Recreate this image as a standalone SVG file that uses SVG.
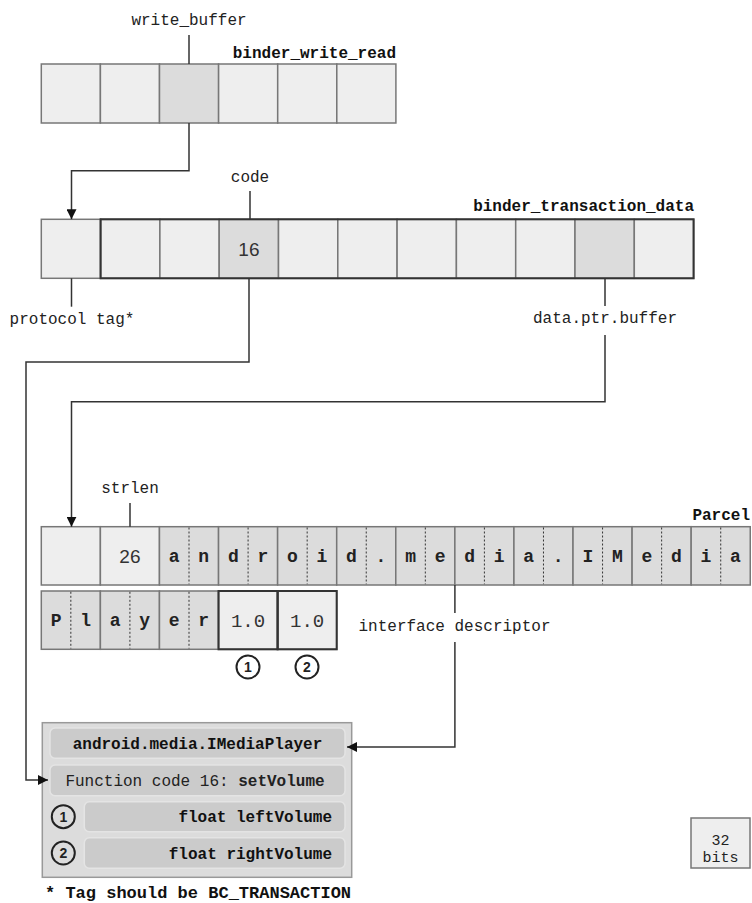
<svg xmlns="http://www.w3.org/2000/svg" width="752" height="903" viewBox="0 0 752 903">
<style>
.lt{fill:#eeeeee;stroke:#777777;stroke-width:1.5}
.dk{fill:#dcdcdc;stroke:#777777;stroke-width:1.5}
.thick{fill:none;stroke:#333333;stroke-width:2}
.dot{stroke:#333333;stroke-width:1;stroke-dasharray:2 2}
.lbl{font-family:"Liberation Mono",monospace;font-size:16px;fill:#222222}
.ttl{font-family:"Liberation Mono",monospace;font-size:16px;font-weight:bold;fill:#111111}
.ch{font-family:"Liberation Mono",monospace;font-size:18px;font-weight:bold;fill:#222222;text-anchor:middle}
.num{font-family:"Liberation Sans",sans-serif;font-size:19px;fill:#333333;text-anchor:middle}
.flt{font-family:"Liberation Mono",monospace;font-size:19px;fill:#333333;text-anchor:middle}
.circ{fill:none;stroke:#222222;stroke-width:2}
.cn{font-family:"Liberation Sans",sans-serif;font-size:14px;font-weight:bold;fill:#222222;text-anchor:middle}
.conn{fill:none;stroke:#333333;stroke-width:1.5}
.row{fill:#cbcbcb;stroke:#e4e4e4;stroke-width:1.5}
</style>
<defs>
<marker id="ah" viewBox="0 0 10 10" refX="10" refY="5" markerWidth="10" markerHeight="10" markerUnits="userSpaceOnUse" orient="auto">
<path d="M0,0 L10,5 L0,10 z" fill="#111111"/>
</marker>
</defs>

<g id="binder_write_read">
<rect class="lt" x="41.3" y="64" width="59.1" height="59"/>
<rect class="lt" x="100.4" y="64" width="59.1" height="59"/>
<rect class="dk" x="159.5" y="64" width="59.1" height="59"/>
<rect class="lt" x="218.6" y="64" width="59.1" height="59"/>
<rect class="lt" x="277.7" y="64" width="59.1" height="59"/>
<rect class="lt" x="336.8" y="64" width="59.1" height="59"/>
<text class="ttl" x="396" y="58" text-anchor="end">binder_write_read</text>
<text class="lbl" x="189" y="25" text-anchor="middle">write_buffer</text>
</g>

<g id="binder_transaction_data">
<rect class="lt" x="41.3" y="219.3" width="59.3" height="59"/>
<rect class="lt" x="100.6" y="219.3" width="59.3" height="59"/>
<rect class="lt" x="159.9" y="219.3" width="59.3" height="59"/>
<rect class="dk" x="219.2" y="219.3" width="59.3" height="59"/>
<rect class="lt" x="278.5" y="219.3" width="59.3" height="59"/>
<rect class="lt" x="337.8" y="219.3" width="59.3" height="59"/>
<rect class="lt" x="397.1" y="219.3" width="59.3" height="59"/>
<rect class="lt" x="456.4" y="219.3" width="59.3" height="59"/>
<rect class="lt" x="515.7" y="219.3" width="59.3" height="59"/>
<rect class="dk" x="575.0" y="219.3" width="59.3" height="59"/>
<rect class="lt" x="634.3" y="219.3" width="59.3" height="59"/>
<rect class="thick" x="100.6" y="219.3" width="593" height="59"/>
<text class="num" x="248.9" y="255.5">16</text>
<text class="ttl" x="694" y="211" text-anchor="end">binder_transaction_data</text>
<text class="lbl" x="250" y="182" text-anchor="middle">code</text>
<text class="lbl" x="72" y="324" text-anchor="middle">protocol tag*</text>
<text class="lbl" x="605" y="323" text-anchor="middle">data.ptr.buffer</text>
</g>

<g id="parcel">
<rect class="lt" x="41.3" y="526.7" width="59.08" height="58.3"/>
<rect class="lt" x="100.38" y="526.7" width="59.08" height="58.3"/>
<rect class="dk" x="159.46" y="526.7" width="59.08" height="58.3"/>
<rect class="dk" x="218.54" y="526.7" width="59.08" height="58.3"/>
<rect class="dk" x="277.62" y="526.7" width="59.08" height="58.3"/>
<rect class="dk" x="336.7" y="526.7" width="59.08" height="58.3"/>
<rect class="dk" x="395.78" y="526.7" width="59.08" height="58.3"/>
<rect class="dk" x="454.86" y="526.7" width="59.08" height="58.3"/>
<rect class="dk" x="513.94" y="526.7" width="59.08" height="58.3"/>
<rect class="dk" x="573.02" y="526.7" width="59.08" height="58.3"/>
<rect class="dk" x="632.1" y="526.7" width="59.08" height="58.3"/>
<rect class="dk" x="691.18" y="526.7" width="59.08" height="58.3"/>
<g class="dot">
<line x1="189" y1="527.5" x2="189" y2="584.2"/>
<line x1="248.08" y1="527.5" x2="248.08" y2="584.2"/>
<line x1="307.16" y1="527.5" x2="307.16" y2="584.2"/>
<line x1="366.24" y1="527.5" x2="366.24" y2="584.2"/>
<line x1="425.32" y1="527.5" x2="425.32" y2="584.2"/>
<line x1="484.4" y1="527.5" x2="484.4" y2="584.2"/>
<line x1="543.48" y1="527.5" x2="543.48" y2="584.2"/>
<line x1="602.56" y1="527.5" x2="602.56" y2="584.2"/>
<line x1="661.64" y1="527.5" x2="661.64" y2="584.2"/>
<line x1="720.72" y1="527.5" x2="720.72" y2="584.2"/>
</g>
<text class="num" x="129.9" y="562.5">26</text>
<text class="ch" x="174.23" y="562">a</text><text class="ch" x="203.77" y="562">n</text>
<text class="ch" x="233.31" y="562">d</text><text class="ch" x="262.85" y="562">r</text>
<text class="ch" x="292.39" y="562">o</text><text class="ch" x="321.93" y="562">i</text>
<text class="ch" x="351.47" y="562">d</text><text class="ch" x="381.01" y="562">.</text>
<text class="ch" x="410.55" y="562">m</text><text class="ch" x="440.09" y="562">e</text>
<text class="ch" x="469.63" y="562">d</text><text class="ch" x="499.17" y="562">i</text>
<text class="ch" x="528.71" y="562">a</text><text class="ch" x="558.25" y="562">.</text>
<text class="ch" x="587.79" y="562">I</text><text class="ch" x="617.33" y="562">M</text>
<text class="ch" x="646.87" y="562">e</text><text class="ch" x="676.41" y="562">d</text>
<text class="ch" x="705.95" y="562">i</text><text class="ch" x="735.49" y="562">a</text>
<text class="ttl" x="750" y="520" text-anchor="end">Parcel</text>
<text class="lbl" x="130" y="493" text-anchor="middle">strlen</text>

<rect class="dk" x="41.3" y="591" width="59.08" height="58.3"/>
<rect class="dk" x="100.38" y="591" width="59.08" height="58.3"/>
<rect class="dk" x="159.46" y="591" width="59.08" height="58.3"/>
<rect class="lt" x="218.54" y="591" width="59.08" height="58.3"/>
<rect class="lt" x="277.62" y="591" width="59.08" height="58.3"/>
<rect class="thick" x="218.54" y="591" width="59.08" height="58.3"/>
<rect class="thick" x="277.62" y="591" width="59.08" height="58.3"/>
<g class="dot">
<line x1="70.84" y1="591.8" x2="70.84" y2="648.5"/>
<line x1="129.92" y1="591.8" x2="129.92" y2="648.5"/>
<line x1="189" y1="591.8" x2="189" y2="648.5"/>
</g>
<text class="ch" x="56.07" y="626">P</text><text class="ch" x="85.61" y="626">l</text>
<text class="ch" x="115.15" y="626">a</text><text class="ch" x="144.69" y="626">y</text>
<text class="ch" x="174.23" y="626">e</text><text class="ch" x="203.77" y="626">r</text>
<text class="flt" x="248.08" y="626.5">1.0</text>
<text class="flt" x="307.16" y="626.5">1.0</text>
<circle class="circ" cx="248" cy="667" r="11.5"/>
<text class="cn" x="248" y="672">1</text>
<circle class="circ" cx="307" cy="667" r="11.5"/>
<text class="cn" x="307" y="672">2</text>
<text class="lbl" x="454.5" y="631" text-anchor="middle">interface descriptor</text>
</g>

<g id="method">
<rect x="42.3" y="722.7" width="309.4" height="154.6" fill="#dcdcdc" stroke="#999999" stroke-width="1.5"/>
<rect class="row" x="50" y="728" width="295" height="30.3" rx="5"/>
<text class="ttl" x="197.5" y="748.5" text-anchor="middle" fill="#222222">android.media.IMediaPlayer</text>
<rect class="row" x="50" y="765" width="295" height="30.7" rx="5"/>
<text class="lbl" x="195" y="786" text-anchor="middle">Function code 16: <tspan font-weight="bold">setVolume</tspan></text>
<rect class="row" x="84.3" y="801.7" width="260.7" height="30" rx="5"/>
<text class="ttl" x="332" y="822" text-anchor="end">float leftVolume</text>
<rect class="row" x="84.3" y="837.7" width="260.7" height="30.6" rx="5"/>
<text class="ttl" x="332" y="858.5" text-anchor="end">float rightVolume</text>
<circle class="circ" cx="63.3" cy="816.7" r="11.5"/>
<text class="cn" x="63.3" y="821.7">1</text>
<circle class="circ" cx="63.3" cy="853" r="11.5"/>
<text class="cn" x="63.3" y="858">2</text>
</g>

<g id="footnote">
<text class="ttl" x="45" y="898" style="font-size:17px">* Tag should be BC_TRANSACTION</text>
</g>

<g id="legend">
<rect class="lt" x="691" y="818" width="59" height="50"/>
<text class="lbl" x="720.5" y="845" text-anchor="middle" style="font-size:15px">32</text>
<text class="lbl" x="720.5" y="862" text-anchor="middle" style="font-size:15px">bits</text>
</g>

<g id="connectors">
<path class="conn" d="M189,35 V64"/>
<path class="conn" d="M189,123 V170.7 H71.5 V219.3" marker-end="url(#ah)"/>
<path class="conn" d="M250,191 V219.3"/>
<path class="conn" d="M71.5,278.3 V306.7"/>
<path class="conn" d="M605,278.3 V306"/>
<path class="conn" d="M249,278.3 V362 H26 V780 H48" marker-end="url(#ah)"/>
<path class="conn" d="M605,335 V401.7 H71.5 V526.7" marker-end="url(#ah)"/>
<path class="conn" d="M130,503 V526.7"/>
<path class="conn" d="M454.9,585 V613"/>
<path class="conn" d="M454.9,642 V747 H347" marker-end="url(#ah)"/>
</g>
</svg>
